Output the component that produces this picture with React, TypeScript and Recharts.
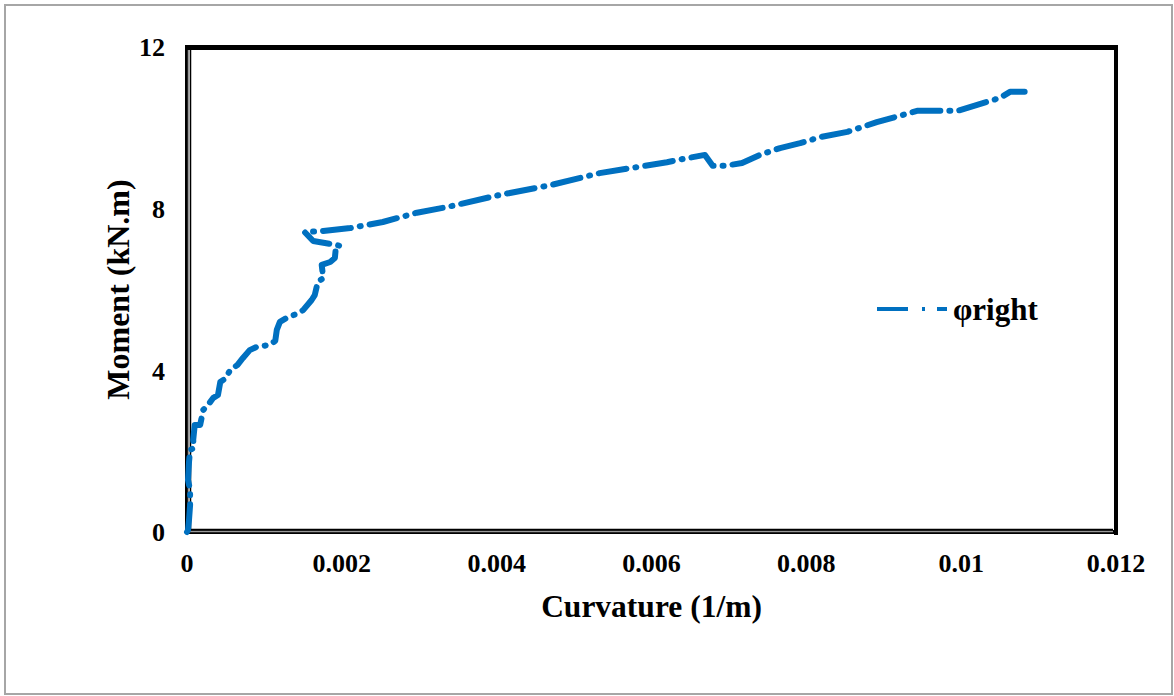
import { Legend, Line, LineChart, XAxis, YAxis } from "recharts";

// curvature (1/m) and moment (kN.m) in drawing order
const curvature = [
  0, 0.000013, 0.000026, 0.00004, 0.00004, 0.000013, 0.000026, 0.00004, 0.00009, 0.00008,
  0.0001, 0.00017, 0.00021, 0.00027, 0.00034, 0.0004, 0.00043, 0.00049, 0.00056, 0.00065,
  0.00072, 0.00081, 0.0009, 0.00107, 0.00114, 0.00116, 0.0012, 0.00129, 0.00142, 0.0015,
  0.00161, 0.00165, 0.00169, 0.00176, 0.00174, 0.00185, 0.00191, 0.00192, 0.00198, 0.00185,
  0.00163, 0.00152, 0.00176, 0.00211, 0.00253, 0.00297, 0.00336, 0.00404, 0.00469, 0.00533,
  0.00598, 0.0062, 0.00646, 0.00669, 0.00679, 0.00695, 0.00717, 0.0074, 0.00766, 0.00792,
  0.00818, 0.00853, 0.00891, 0.00943, 0.00962, 0.00995, 0.01028, 0.0105, 0.01063, 0.01082,
];
const moment = [
  0, 0.05, 0.3, 0.67, 1.04, 1.29, 1.73, 2.03, 2.08, 2.28,
  2.65, 2.65, 3.02, 3.14, 3.32, 3.39, 3.71, 3.79, 4.01, 4.13,
  4.3, 4.5, 4.58, 4.63, 4.73, 5.0, 5.2, 5.3, 5.4, 5.49,
  5.74, 5.86, 6.19, 6.28, 6.61, 6.68, 6.78, 6.98, 7.08, 7.13,
  7.2, 7.42, 7.45, 7.52, 7.67, 7.9, 8.04, 8.34, 8.58, 8.88,
  9.08, 9.15, 9.25, 9.33, 9.06, 9.06, 9.13, 9.33, 9.5, 9.62,
  9.77, 9.9, 10.14, 10.42, 10.42, 10.42, 10.61, 10.74, 10.89, 10.89,
];

const xTicks = [0, 0.002, 0.004, 0.006, 0.008, 0.01, 0.012];
const xTickLabels = ["0", "0.002", "0.004", "0.006", "0.008", "0.01", "0.012"];
const yTicks = [0, 4, 8, 12];

const data = curvature.map((c, i) => ({ c, m: moment[i] }));

const BLUE = "#0070C0";
const FONT = "'Liberation Serif', 'Times New Roman', serif";
const tickStyle = { fill: "#000", fontSize: 26, fontWeight: 700, fontFamily: FONT };

function LegendBox(props: any) {
  const item = props.payload && props.payload[0];
  return (
    <svg width={190} height={40}>
      <line x1={7} y1={19} x2={38} y2={19} stroke={BLUE} strokeWidth={4} />
      <line x1={52} y1={19} x2={55} y2={19} stroke={BLUE} strokeWidth={4} />
      <line x1={67} y1={19} x2={77} y2={19} stroke={BLUE} strokeWidth={4} />
      <text x={83} y={30} fontFamily={FONT} fontWeight={700} fontSize={31} fill="#000">
        {item ? item.value : ""}
      </text>
    </svg>
  );
}

export default function App() {
  return (
    <div style={{ position: "absolute", left: 0, top: 0, width: 1174, height: 696, background: "#fff" }}>
      <div
        style={{
          position: "absolute",
          left: 4,
          top: 4,
          width: 1169,
          height: 691,
          boxSizing: "border-box",
          border: "2px solid #a6a6a6",
        }}
      />
      {/* plot frame */}
      <svg width={1174} height={696} style={{ position: "absolute", left: 0, top: 0 }}>
        <rect x={187} y={47} width={929} height={485} fill="none" stroke="#000" strokeWidth={4} />
        <line x1={186} y1={48} x2={1118} y2={48} stroke="#000" strokeWidth={4} />
        <line x1={1116} y1={46} x2={1116} y2={535} stroke="#000" strokeWidth={4} />
        <line x1={188.5} y1={50} x2={188.5} y2={531} stroke="#999" strokeWidth={1.5} />
        <line x1={189} y1={531.5} x2={1113} y2={531.5} stroke="#999" strokeWidth={1.5} />
        <line x1={190.5} y1={50} x2={190.5} y2={530} stroke="#000" strokeWidth={1.5} />
        <line x1={190} y1={529.5} x2={1113} y2={529.5} stroke="#000" strokeWidth={1.5} />
      </svg>
      <div style={{ position: "absolute", left: 0, top: 0 }}>
        <LineChart width={1174} height={696} data={data} margin={{ top: 47, right: 58, bottom: 74, left: 0 }}>
          <XAxis
            type="number"
            dataKey="c"
            domain={[0, 0.012]}
            ticks={xTicks}
            tickFormatter={(v: number) => xTickLabels[xTicks.indexOf(v)] ?? String(v)}
            axisLine={false}
            tickLine={false}
            tickSize={0}
            tickMargin={22}
            height={90}
            tick={tickStyle}
            label={{
              content: (p: any) => (
                <text
                  x={p.viewBox.x + p.viewBox.width / 2}
                  y={p.viewBox.y + 85}
                  textAnchor="middle"
                  fontFamily={FONT}
                  fontWeight={700}
                  fontSize={31.5}
                  fill="#000"
                >
                  Curvature (1/m)
                </text>
              ),
            }}
          />
          <YAxis
            type="number"
            dataKey="m"
            domain={[0, 12]}
            ticks={yTicks}
            axisLine={false}
            tickLine={false}
            tickSize={0}
            tickMargin={22}
            width={187}
            tick={tickStyle}
            label={{
              content: (p: any) => {
                const cy = p.viewBox.y + p.viewBox.height / 2;
                return (
                  <text
                    x={118}
                    y={cy}
                    textAnchor="middle"
                    dominantBaseline="central"
                    transform={`rotate(-90, 118, ${cy})`}
                    fontFamily={FONT}
                    fontWeight={700}
                    fontSize={32}
                    fill="#000"
                  >
                    Moment (kN.m)
                  </text>
                );
              },
            }}
          />
          <Legend
            layout="horizontal"
            verticalAlign="middle"
            align="center"
            content={LegendBox}
            wrapperStyle={{ position: "absolute", left: 870, top: 290, width: 190, height: 40 }}
          />
          <Line
            name="φright"
            dataKey="m"
            type="linear"
            stroke={BLUE}
            strokeWidth={6}
            strokeDasharray="28 9 1 9"
            strokeLinecap="round"
            strokeLinejoin="round"
            dot={false}
            isAnimationActive={false}
          />
        </LineChart>
      </div>
    </div>
  );
}
